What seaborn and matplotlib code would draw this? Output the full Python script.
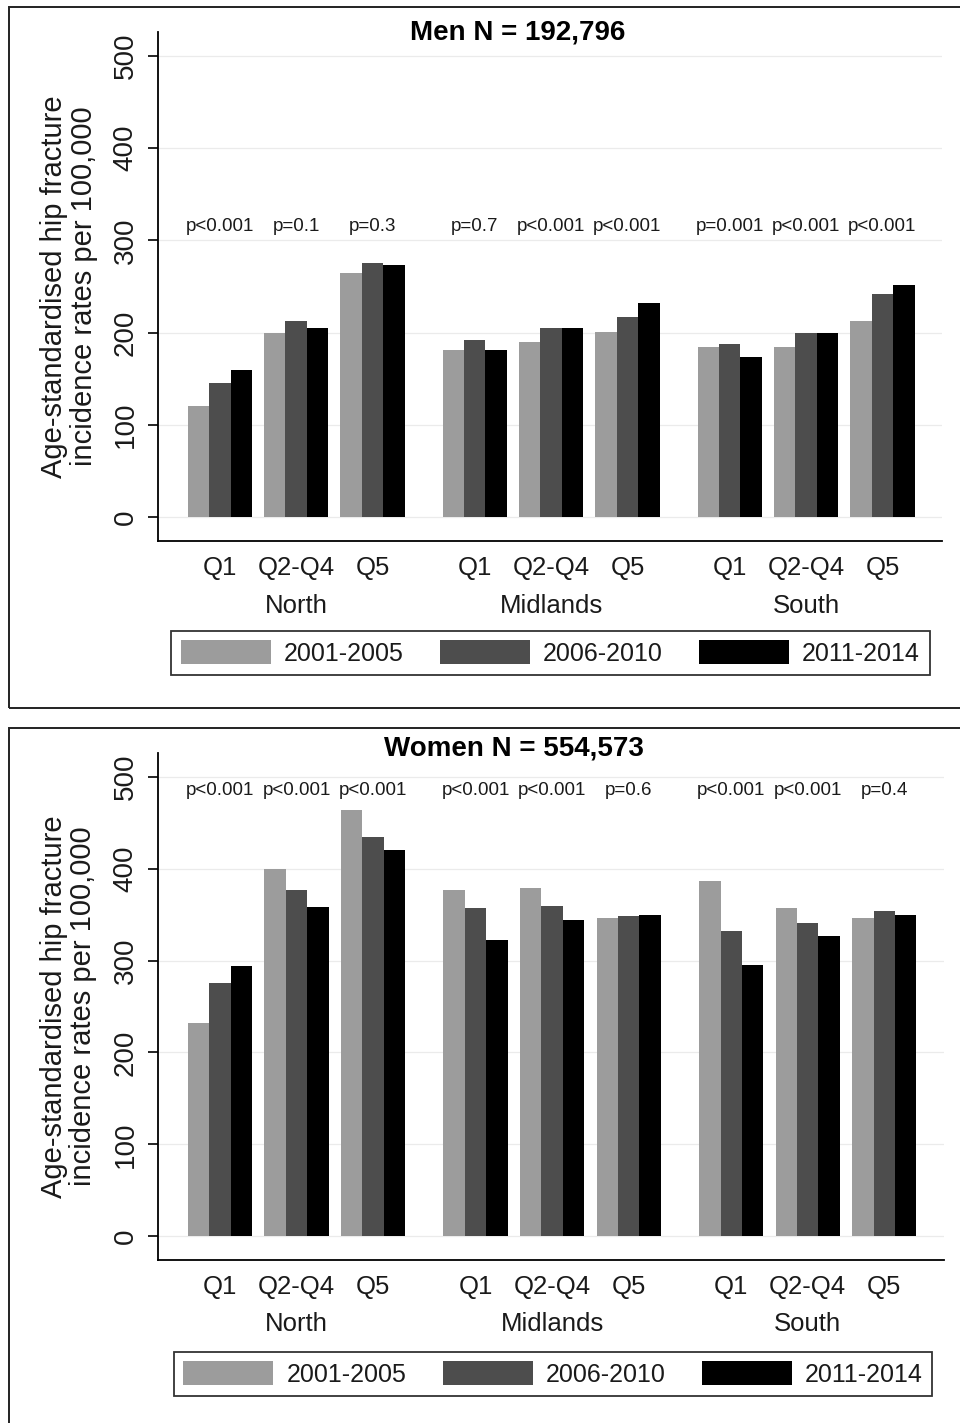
import numpy as np
import pandas as pd
import matplotlib
matplotlib.use("Agg")
import matplotlib.pyplot as plt
from matplotlib.patches import Rectangle
import seaborn as sns

# ---- data -----------------------------------------------------------------
regions = ["North", "Midlands", "South"]
quintiles = ["Q1", "Q2-Q4", "Q5"]
periods = ["2001-2005", "2006-2010", "2011-2014"]

# age-standardised hip fracture incidence per 100,000, ordered region x quintile
men_2001_2005 = [120, 200, 265, 181, 190, 201, 184, 184, 213]
men_2006_2010 = [145, 213, 275, 192, 205, 217, 188, 200, 242]
men_2011_2014 = [159, 205, 273, 181, 205, 232, 174, 200, 252]
men_p = ["p<0.001", "p=0.1", "p=0.3",
         "p=0.7", "p<0.001", "p<0.001",
         "p=0.001", "p<0.001", "p<0.001"]

women_2001_2005 = [232, 400, 464, 377, 379, 346, 387, 357, 346]
women_2006_2010 = [276, 377, 435, 357, 359, 348, 332, 341, 354]
women_2011_2014 = [294, 358, 420, 322, 344, 350, 295, 327, 350]
women_p = ["p<0.001", "p<0.001", "p<0.001",
           "p<0.001", "p<0.001", "p=0.6",
           "p<0.001", "p<0.001", "p=0.4"]

y_ticks = [0, 100, 200, 300, 400, 500]

# ---- styling ----------------------------------------------------------------
sns.set_theme(style="white")
plt.rcParams["font.family"] = ["Liberation Sans", "DejaVu Sans"]
TXT = "#1a1a1a"
palette = ["#9c9c9c", "#4d4d4d", "#000000"]
region_gap = 0.34  # extra spacing between regions, in bar-group units

# numeric x position for every region/quintile group
group_pos = [r * (len(quintiles) + region_gap) + q
             for r in range(len(regions)) for q in range(len(quintiles))]


def long_frame(series):
    rows = []
    for period, values in zip(periods, series):
        for pos, val in zip(group_pos, values):
            rows.append({"pos": pos, "period": period, "rate": val})
    return pd.DataFrame(rows)


W, H = 960, 1423
fig = plt.figure(figsize=(W / 100, H / 100), dpi=100)
fig.patch.set_facecolor("white")


def px(x, y):
    """figure-pixel (from top-left) to figure fraction"""
    return x / W, 1 - y / H


panels = [
    dict(series=[men_2001_2005, men_2006_2010, men_2011_2014], pvals=men_p,
         title="Men N = 192,796", ax_box=(158, 32, 942, 541),
         title_xy=(518, 33), legend_xy=(550.5, 653), frame=(9, 7, 708),
         p_y=315),
    dict(series=[women_2001_2005, women_2006_2010, women_2011_2014], pvals=women_p,
         title="Women N = 554,573", ax_box=(158, 753, 944, 1260),
         title_xy=(514, 749), legend_xy=(553, 1374), frame=(9, 728, 1440),
         p_y=485),
]

for panel in panels:
    x0, y0, x1, y1 = panel["ax_box"]
    ax = fig.add_axes([x0 / W, 1 - y1 / H, (x1 - x0) / W, (y1 - y0) / H])

    df = long_frame(panel["series"])
    sns.barplot(data=df, x="pos", y="rate", hue="period", hue_order=periods,
                native_scale=True, palette=palette, saturation=1, width=0.84,
                gap=0, linewidth=0, edgecolor="none", errorbar=None, ax=ax)

    ax.set_ylim(-26, 526)
    ax.set_xlim(-0.81, group_pos[-1] + 0.78)
    ax.set_yticks(y_ticks)
    ax.set_yticklabels([str(t) for t in y_ticks], rotation=90, va="center",
                       fontsize=20, color=TXT)
    ax.yaxis.grid(True, color="#ebebeb", linewidth=0.9)
    ax.set_axisbelow(True)
    ax.tick_params(axis="y", length=7, width=1.2, color="black", pad=7,
                   left=True)
    ax.set_xticks(group_pos)
    ax.set_xticklabels(quintiles * len(regions), fontsize=18.5, color=TXT)
    ax.tick_params(axis="x", length=0, pad=11)
    ax.set_xlabel("")
    ax.set_ylabel("Age-standardised hip fracture\nincidence rates per 100,000",
                  fontsize=21, color=TXT, linespacing=1.08)
    ax.yaxis.set_label_coords(-0.077, 0.5)
    for side in ("top", "right"):
        ax.spines[side].set_visible(False)
    for side in ("left", "bottom"):
        ax.spines[side].set_color("black")
        ax.spines[side].set_linewidth(1.3)

    # region names under the quintile labels
    for r, name in enumerate(regions):
        centre = np.mean(group_pos[r * 3:(r + 1) * 3])
        ax.text(centre, -0.127, name, transform=ax.get_xaxis_transform(),
                ha="center", va="center", fontsize=18.5, color=TXT)

    # trend p-values above each group
    for pos, p in zip(group_pos, panel["pvals"]):
        ax.text(pos, panel["p_y"], p, ha="center", va="center",
                fontsize=13.5, color=TXT)

    tx, ty = px(*panel["title_xy"])
    fig.text(tx, ty, panel["title"], ha="center", va="center",
             fontsize=20, fontweight="bold", color="black")

    lx, ly = px(*panel["legend_xy"])
    sns.move_legend(ax, loc="center", bbox_to_anchor=(lx, ly),
                    bbox_transform=fig.transFigure, ncol=3, title=None,
                    frameon=True, fancybox=False, fontsize=18,
                    handlelength=3.6, handleheight=1.08, handletextpad=0.52,
                    columnspacing=1.45, borderpad=0.38, borderaxespad=0)
    leg = ax.get_legend()
    leg.get_frame().set_edgecolor("black")
    leg.get_frame().set_linewidth(1.3)
    for t in leg.get_texts():
        t.set_color(TXT)

    # outer graph frame (right side runs past the image edge)
    fx, ftop, fbot = panel["frame"]
    fig.add_artist(Rectangle((fx / W, 1 - fbot / H), (W + 20 - fx) / W,
                             (fbot - ftop) / H, transform=fig.transFigure,
                             fill=False, edgecolor="#222222", linewidth=1.4))

fig.savefig("out.png", dpi=100, facecolor="white")
